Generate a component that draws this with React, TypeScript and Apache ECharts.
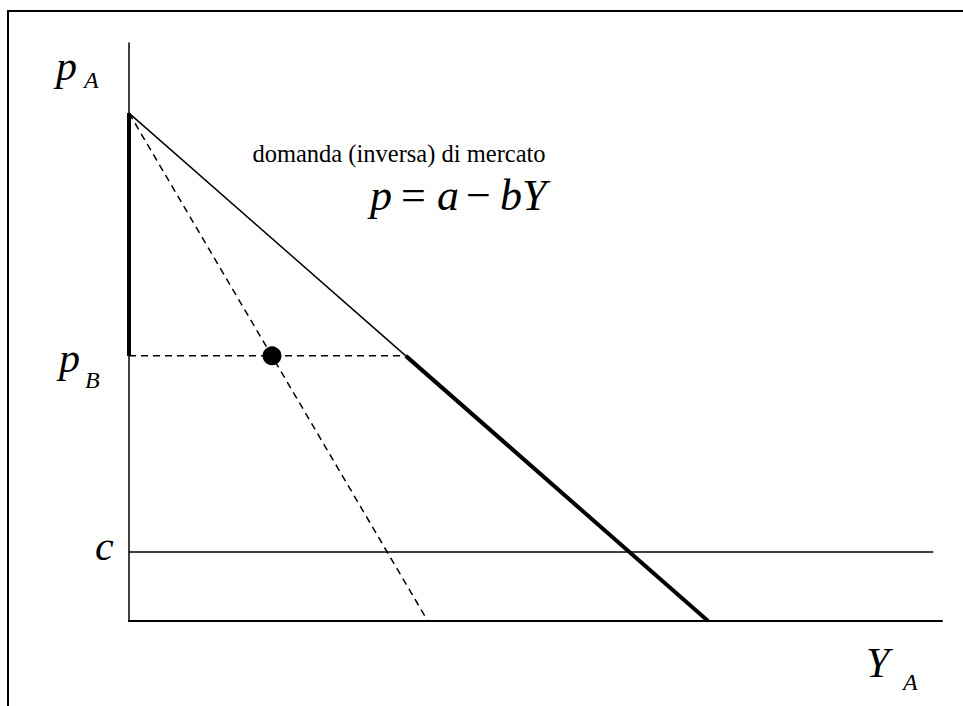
import React, { useEffect, useRef } from "react";
import * as echarts from "echarts";

// Axis extents (arbitrary units: demand intercept a = 100, demand quantity intercept = 100)
const X_MAX = 140.4;
const Y_MAX = 113.8;

// Inverse market demand p = a - bY (thin part above p_B, thick part below)
const demandUpper: [number, number][] = [[0, 100], [47.8, 52.2]];
const demandLower: [number, number][] = [[47.8, 52.2], [100, 0]];
// Dashed marginal line from the demand intercept
const mrLine: [number, number][] = [[0, 100], [51.6, 0]];
// Dashed horizontal at p_B
const pBLine: [number, number][] = [[0, 52.2], [47.8, 52.2]];
// Thick vertical segment on the price axis between p_B and a
const priceSegment: [number, number][] = [[0, 100], [0, 52.2]];
// Marginal cost c
const cLine: [number, number][] = [[0, 13.6], [138.9, 13.6]];
// Point on the dashed line at p_B
const dotPoint: [number, number][] = [[24.7, 52.2]];

const SERIF = "Liberation Serif";

export default function App() {
  const ref = useRef<HTMLDivElement>(null);
  useEffect(() => {
    if (!ref.current) return;
    const chart = echarts.init(ref.current, null, { renderer: "svg" });
    const solid = (data: [number, number][], width: number, type: any = "solid") => ({
      type: "line",
      data,
      symbol: "none",
      silent: true,
      lineStyle: { color: "#000", width, type },
      z: 3,
    });
    // x = left edge (or centre), baseline = alphabetic baseline
    const txt = (text: string, x: number, baseline: number, size: number, italic = true, align = "left") => ({
      type: "text",
      x,
      y: baseline - 0.88 * size,
      style: {
        text,
        fill: "#000",
        fontFamily: SERIF,
        fontSize: size,
        fontStyle: italic ? "italic" : "normal",
        fontWeight: "normal",
        textAlign: align,
        textVerticalAlign: "top",
      },
    });
    chart.setOption({
      animation: false,
      backgroundColor: "#fff",
      grid: { left: 129, top: 43, width: 813, height: 578, containLabel: false },
      xAxis: {
        type: "value",
        min: 0,
        max: X_MAX,
        axisLine: { show: true, lineStyle: { color: "#000", width: 2 } },
        axisTick: { show: false },
        axisLabel: { show: false },
        splitLine: { show: false },
      },
      yAxis: {
        type: "value",
        min: 0,
        max: Y_MAX,
        axisLine: { show: true, lineStyle: { color: "#000", width: 1.5 } },
        axisTick: { show: false },
        axisLabel: { show: false },
        splitLine: { show: false },
      },
      series: [
        solid(demandUpper, 1.5),
        solid(demandLower, 4),
        solid(mrLine, 1.5, [7, 5]),
        solid(pBLine, 1.5, [7, 5]),
        solid(priceSegment, 4),
        solid(cLine, 1.5),
        {
          type: "scatter",
          data: dotPoint,
          symbol: "circle",
          symbolSize: 19,
          itemStyle: { color: "#000", opacity: 1 },
          silent: true,
          z: 5,
        },
      ],
      graphic: [
        { type: "line", shape: { x1: 8, y1: 11, x2: 963, y2: 11 }, style: { stroke: "#000", lineWidth: 2 } },
        { type: "line", shape: { x1: 8, y1: 10, x2: 8, y2: 706 }, style: { stroke: "#000", lineWidth: 2 } },
        txt("p", 56, 82, 42),
        txt("A", 84, 89, 24),
        txt("p", 59, 374, 42),
        txt("B", 85, 389, 24),
        txt("c", 95, 562, 42),
        txt("Y", 866, 679, 42),
        txt("A", 903, 691, 24),
        txt("domanda (inversa) di mercato", 399, 163, 24.5, false, "center"),
        txt("p", 370, 212, 44),
        txt("=", 401, 212, 44, false),
        txt("a", 437, 212, 44),
        txt("\u2212", 466, 212, 44, false),
        txt("bY", 500, 212, 44),
      ],
    });
    return () => chart.dispose();
  }, []);
  return (
    <div
      ref={ref}
      style={{ position: "fixed", left: 0, top: 0, width: 963, height: 706, background: "#fff" }}
    />
  );
}
